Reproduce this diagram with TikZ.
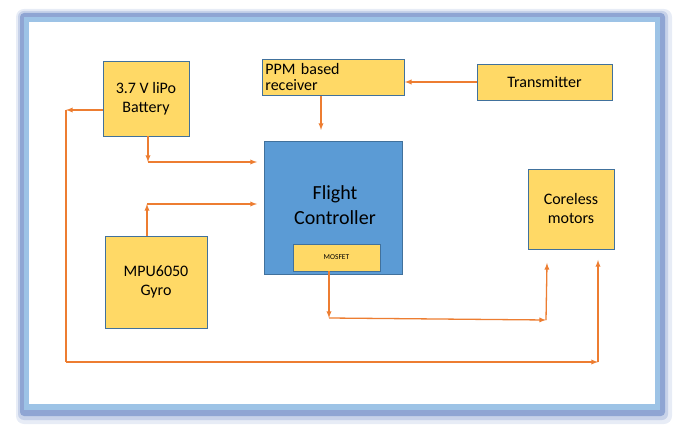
\documentclass[tikz,border=0pt]{standalone}
\usepackage{fontspec}
\setmainfont{Carlito}
\usetikzlibrary{shapes.geometric, arrows}
\definecolor{boxfill}{HTML}{FFD966}
\definecolor{boxline}{HTML}{41719C}
\definecolor{fcblue}{HTML}{5B9BD5}
\definecolor{wire}{HTML}{ED7D31}
\definecolor{frameblue}{HTML}{9DC3E6}
\definecolor{shadeblue}{HTML}{5F7FC0}
\tikzset{
  blk/.style={draw=boxline, fill=boxfill, line width=0.8pt, inner sep=0pt, font=\fontsize{16}{19}\selectfont},
  wr/.style={draw=wire, line width=1.3pt},
  arr/.style={wr, -latex}
}
\begin{document}
\begin{tikzpicture}[x=1pt,y=-1pt]
\useasboundingbox (0,0) rectangle (679,427);
% frame
\fill[shadeblue!15, rounded corners=8pt] (16,9) rectangle (672,424);
\fill[shadeblue!35, rounded corners=6pt] (18,11) rectangle (668,420);
\fill[shadeblue!70, rounded corners=4pt] (20,13) rectangle (665,416);
\fill[frameblue] (24,17) rectangle (660,410);
\fill[white] (29,22) rectangle (655,404);

% blocks
\node[blk, minimum width=86pt, minimum height=75pt, align=center] (bat) at (146,98.5) {3.7 V liPo\\Battery};
\node[blk, minimum width=142pt, minimum height=36pt, align=left, anchor=north west, text width=136pt, inner sep=2pt, font=\fontsize{16}{16}\selectfont] (ppm) at (262,59) {PPM based\\receiver};
\node[blk, minimum width=135pt, minimum height=36pt] (tx) at (544.5,82) {Transmitter};
\node[draw=boxline, fill=fcblue, line width=0.8pt, minimum width=138pt, minimum height=133pt, inner sep=0pt] (fc) at (333,207.5) {};
\node[font=\fontsize{20}{25}\selectfont, align=center] (fct) at (335,205) {Flight\\Controller};
\node[blk, minimum width=87pt, minimum height=27pt, font=\fontsize{7.5}{9}\selectfont] (mos) at (336.5,257.5) {MOSFET};
\node[blk, minimum width=86pt, minimum height=80pt, align=center] (mot) at (571,209) {Coreless\\motors};
\node[blk, minimum width=102pt, minimum height=92pt, align=center] (mpu) at (156,282) {MPU6050\\Gyro};

% corners
\coordinate (c1) at (148,162);
\coordinate (c2) at (147,204);
\coordinate (c3) at (66,110);
\coordinate (c4) at (66,362);
\coordinate (c5) at (598,362);
\coordinate (c6) at (598,260);
\coordinate (c7) at (329,318);
\coordinate (c8) at (546,320);
\coordinate (c9) at (547,263);
\coordinate (f1) at (257,162);
\coordinate (f2) at (257,204);
\coordinate (p1) at (321,130);

% wires
\draw[arr] (tx.west) -- (ppm.east |- tx.west);
\draw[arr] (ppm.south -| p1) -- (p1);
\draw[arr] (bat.south -| c1) -- (c1);
\draw[arr] (c1) -- (f1);
\draw[arr] (mpu.north -| c2) -- (c2);
\draw[arr] (c2) -- (f2);
\draw[arr] (bat.west |- c3) -- (c3);
\draw[wr] (c3) -- (c4);
\draw[arr] (c4) -- (c5);
\draw[arr] (c5) -- (c6);
\draw[arr] (mos.south -| c7) -- (c7);
\draw[arr] (c7) -- (c8);
\draw[arr] (c8) -- (c9);
\end{tikzpicture}
\end{document}
